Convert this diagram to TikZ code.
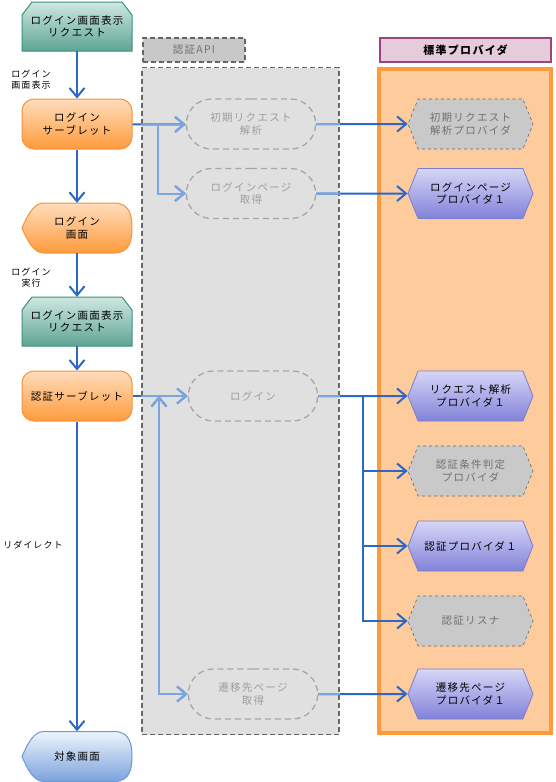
\documentclass[tikz,border=0pt]{standalone}
\usepackage{fontspec}
\setmainfont{Noto Sans CJK JP}[LetterSpace=12]
\usetikzlibrary{arrows.meta,shapes.misc,shapes.symbols,backgrounds}

\definecolor{tealtop}{HTML}{CFE7E0}
\definecolor{tealbot}{HTML}{5EA594}
\definecolor{tealline}{HTML}{3A8F80}
\definecolor{orgtop}{HTML}{FFDDBD}
\definecolor{orgbot}{HTML}{FF9B3C}
\definecolor{orgline}{HTML}{F5923A}
\definecolor{blutop}{HTML}{EEF4FC}
\definecolor{blubot}{HTML}{7BA3DD}
\definecolor{bluline}{HTML}{6A98D8}
\definecolor{prptop}{HTML}{D6D6F7}
\definecolor{prpbot}{HTML}{8282D9}
\definecolor{prpline}{HTML}{7C7CCC}
\definecolor{hexgray}{HTML}{C9C9C9}
\definecolor{apifill}{HTML}{E0E0E0}
\definecolor{apihead}{HTML}{C8C8C8}
\definecolor{stdfill}{HTML}{FDCB9C}
\definecolor{stdline}{HTML}{FF9A3A}
\definecolor{stdhead}{HTML}{E6CCDB}
\definecolor{stdheadline}{HTML}{994680}
\definecolor{linkdark}{HTML}{2B68C8}
\definecolor{linklite}{HTML}{7BA6E2}

% outline of the screen boxes
\newcommand\disppath{(-55pt,0pt) .. controls (-49pt,14pt) and (-43pt,25pt) .. (-33pt,25pt)
  -- (37pt,25pt) .. controls (53pt,25pt) and (55pt,12pt) .. (55pt,0pt)
  .. controls (55pt,-12pt) and (53pt,-25pt) .. (37pt,-25pt)
  -- (-33pt,-25pt) .. controls (-43pt,-25pt) and (-49pt,-14pt) .. (-55pt,0pt) -- cycle}

\newcommand\apilinks{%
  (svl) edge[-] (b1)
  (b1) edge (a1)
  (b1) edge[elbow] (a2)
  (auth) edge[-] (b2)
  (b2) edge (a3)
  (b2) edge[elbow] (a4)
  (a1) edge (p1)
  (a2) edge (p2)
  (a4) edge (p7)
  (a3) edge[-] (b3)}

\begin{document}
\begin{tikzpicture}[x=1pt,y=-1pt,->,>={Straight Barb[length=9pt,width=15pt]},
    node distance=75pt,font=\fontsize{10.5}{12.5}\selectfont,
    link/.style={draw=linkdark,line width=2pt},
    elbow/.style={to path={|- (\tikztotarget) \tikztonodes}},
    lbl/.style={font=\fontsize{9}{11}\selectfont,align=center},
    reqbox/.style={minimum width=110pt,minimum height=49pt,align=center},
    tealshape/.style={top color=tealtop,bottom color=tealbot,draw=tealline,line width=1pt},
    svlbox/.style={rounded corners=12pt,minimum width=110pt,minimum height=50pt,
      align=center,top color=orgtop,bottom color=orgbot,draw=orgline,line width=1pt},
    dispbox/.style={minimum width=110pt,minimum height=50pt,align=center},
    dispshape/.style={top color=#1top,bottom color=#1bot,draw=#1line,line width=1pt},
    apipanel/.style={draw=black!60,fill=apifill,dash pattern=on 5pt off 3pt,
      line width=1.5pt,minimum width=197pt,minimum height=667pt,inner sep=0pt},
    apititle/.style={draw=black!60,fill=apihead,dash pattern=on 5pt off 3pt,
      line width=1.5pt,minimum width=102pt,minimum height=24pt,text=black!56},
    apinode/.style={rounded rectangle,draw=black!35,dash pattern=on 6pt off 4pt,
      line width=1.3pt,text=black!38,minimum width=136pt,minimum height=50pt,
      align=center},
    stdpanel/.style={draw=stdline,fill=stdfill,line width=4pt,
      minimum width=172pt,minimum height=664pt,inner sep=0pt},
    stdtitle/.style={draw=stdheadline,fill=stdhead,line width=2pt,
      minimum width=171pt,minimum height=24pt,font=\fontsize{11}{12}\selectfont\bfseries},
    hexbase/.style={signal,signal to=west and east,signal pointer angle=136,
      minimum width=125pt,minimum height=50pt,inner sep=0pt,align=center},
    prov/.style={hexbase,draw=prpline,line width=.8pt,top color=prptop,bottom color=prpbot},
    provg/.style={hexbase,draw=black!60,line width=.6pt,dashed,fill=hexgray,text=black!56}]

  \useasboundingbox (0,0) rectangle (556,782);

  % panels
  \node[apipanel] (api) at (240.5,401) {};
  \node[apititle] (apih) at (194,50) {認証API};
  \node[stdpanel] (std) at (465,401) {};
  \node[stdtitle] (stdh) at (465.5,50) {標準プロバイダ};

  % left column
  \node[reqbox] (req) at (77,26.5) {ログイン画面表示\\リクエスト};
  \node[svlbox] (svl) [below of=req, node distance=97.5pt] {ログイン\\サーブレット};
  \node[dispbox] (scr) [below of=svl, node distance=104pt] {ログイン\\画面};
  \node[reqbox] (req2) [below of=scr, node distance=93.5pt] {ログイン画面表示\\リクエスト};
  \node[svlbox] (auth) [below of=req2, node distance=74.5pt] {認証サーブレット};
  \node[dispbox] (tgt) [below of=auth, node distance=360.5pt] {対象画面};

  \begin{pgfonlayer}{background}
    \foreach \n in {req,req2}
      \shadedraw[-,tealshape,shift={(\n.center)}] (-55pt,-24.5pt) -- (-55pt,11.5pt)
        -- (-45pt,24.5pt) -- (45pt,24.5pt) -- (55pt,11.5pt) -- (55pt,-24.5pt) -- cycle;
    \shadedraw[-,dispshape=org,shift={(scr.center)}] \disppath;
    \shadedraw[-,dispshape=blu,shift={(tgt.center)}] \disppath;
  \end{pgfonlayer}

  % API
  \node[apinode] (a1) [right of=svl, node distance=174pt] {初期リクエスト\\解析};
  \node[apinode] (a2) [below of=a1, node distance=69.5pt] {ログインページ\\取得};
  \node[apinode] (a3) [right of=auth, node distance=176pt] {ログイン};
  \node[apinode] (a4) [below of=a3, node distance=298pt] {遷移先ページ\\取得};

  % providers
  \node[provg] (p1) [right of=a1, node distance=219.5pt] {初期リクエスト\\解析プロバイダ};
  \node[prov] (p2) [right of=a2, node distance=219.5pt] {ログインページ\\プロバイダ１};
  \node[prov] (p3) [right of=a3, node distance=217.5pt] {リクエスト解析\\プロバイダ１};
  \node[provg] (p4) [below of=p3] {認証条件判定\\プロバイダ};
  \node[prov] (p5) [below of=p4] {認証プロバイダ１};
  \node[provg] (p6) [below of=p5] {認証リスナ};
  \node[prov] (p7) [right of=a4, node distance=217.5pt] {遷移先ページ\\プロバイダ１};

  \coordinate (b1) at (158,124.5);
  \coordinate (b2) at (159,396);
  \coordinate (b3) at (363,396);

  \draw[link]
  (req) edge node[lbl, left=22pt, pos=.6] {ログイン\\画面表示} (svl)
  (svl) edge (scr)
  (scr) edge node[lbl, left=22pt, pos=.55] {ログイン\\実行} (req2)
  (req2) edge (auth)
  (auth) edge node[lbl, left=10pt, pos=.4] {リダイレクト} (tgt)
  (b3) edge (p3)
  (b3) edge[elbow] (p4)
  (b3) edge[elbow] (p5)
  (b3) edge[elbow] (p6)
  \apilinks;

  % links seen through the API panel
  \begin{scope}
    \clip (api.north west) rectangle (api.south east);
    \draw[link, draw=linklite] \apilinks;
  \end{scope}

\end{tikzpicture}
\end{document}
